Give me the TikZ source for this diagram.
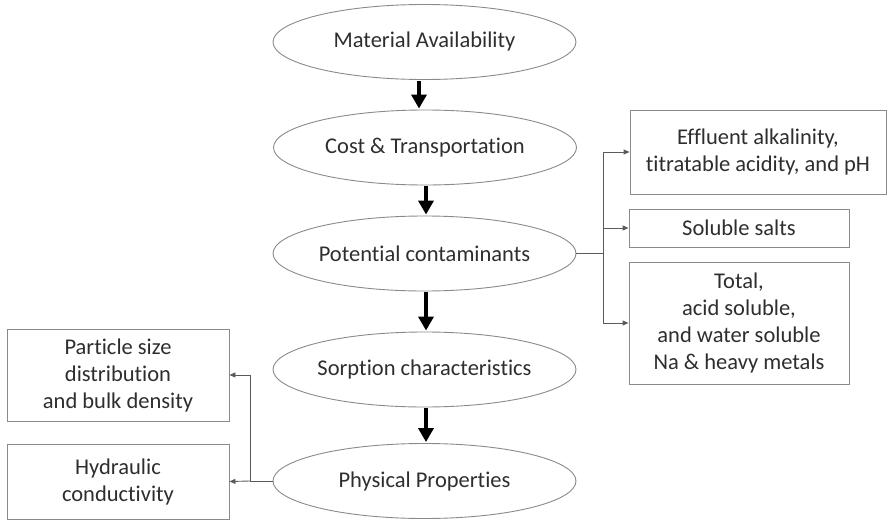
\documentclass[tikz,border=0pt]{standalone}
\usepackage{fontspec}
\setmainfont{Carlito}[Ligatures=NoCommon]
\usetikzlibrary{shapes.geometric,arrows.meta}
\definecolor{txt}{HTML}{2E2E2E}
\definecolor{edge}{HTML}{8A8A8A}
\definecolor{conn}{HTML}{5A5A5A}
\begin{document}
\begin{tikzpicture}[x=1pt,y=-1pt,
  oval/.style={ellipse,draw=edge,line width=0.9pt,minimum width=303pt,minimum height=75pt,inner sep=0pt,text=txt,font=\fontsize{22.5}{27}\selectfont},
  rbox/.style={draw=edge,line width=0.9pt,inner sep=0pt,text=txt,align=center,font=\fontsize{22.5}{27}\selectfont},
  bigarrow/.style={-{Triangle[length=14pt,width=15pt]},line width=3.5pt,black,shorten <=1pt,shorten >=1pt},
  thin/.style={-{Triangle[length=6pt,width=5pt]},conn,line width=0.9pt}]
\useasboundingbox (0,0) rectangle (889,522);
\node[oval] (e1) at (424.5,42) {Material Availability};
\node[oval] (e2) at (425,147.5) {Cost \& Transportation};
\node[oval] (e3) at (424.5,253.5) {Potential contaminants};
\node[oval] (e4) at (424.5,369.5) {Sorption characteristics};
\node[oval] (e5) at (424.5,481) {Physical Properties};
\node[rbox,minimum width=256pt,minimum height=84pt] (ba) at (758,152) {Effluent alkalinity,\\titratable acidity, and pH};
\node[rbox,minimum width=220pt,minimum height=38pt] (bb) at (739,228) {Soluble salts};
\node[rbox,minimum width=220pt,minimum height=122pt] (bc) at (739,323) {Total,\\acid soluble,\\and water soluble\\Na \& heavy metals};
\node[rbox,minimum width=222pt,minimum height=92pt] (bd) at (118,375) {Particle size\\distribution\\and bulk density};
\node[rbox,minimum width=222pt,minimum height=75pt] (be) at (118,481.5) {Hydraulic\\conductivity};
\coordinate (jr) at (603,253.5);
\coordinate (jl) at (250,481);
\draw[bigarrow] ([xshift=-5.5pt]e1.south) -- ([xshift=-6pt]e2.north);
\draw[bigarrow] ([xshift=1pt]e2.south) -- ([xshift=1.5pt]e3.north);
\draw[bigarrow] ([xshift=1.5pt]e3.south) -- ([xshift=1.5pt]e4.north);
\draw[bigarrow] ([xshift=1.5pt]e4.south) -- ([xshift=1.5pt]e5.north);
\draw[conn,line width=0.9pt] (e3.east) -- (jr);
\draw[thin] (jr) |- (ba.west);
\draw[thin] (jr) |- (bb.west);
\draw[thin] (jr) |- (bc.west);
\draw[conn,line width=0.9pt] (e5.west) -- (jl);
\draw[thin] (jl) |- (bd.east);
\draw[thin] (jl) -- (be.east);
\end{tikzpicture}
\end{document}
